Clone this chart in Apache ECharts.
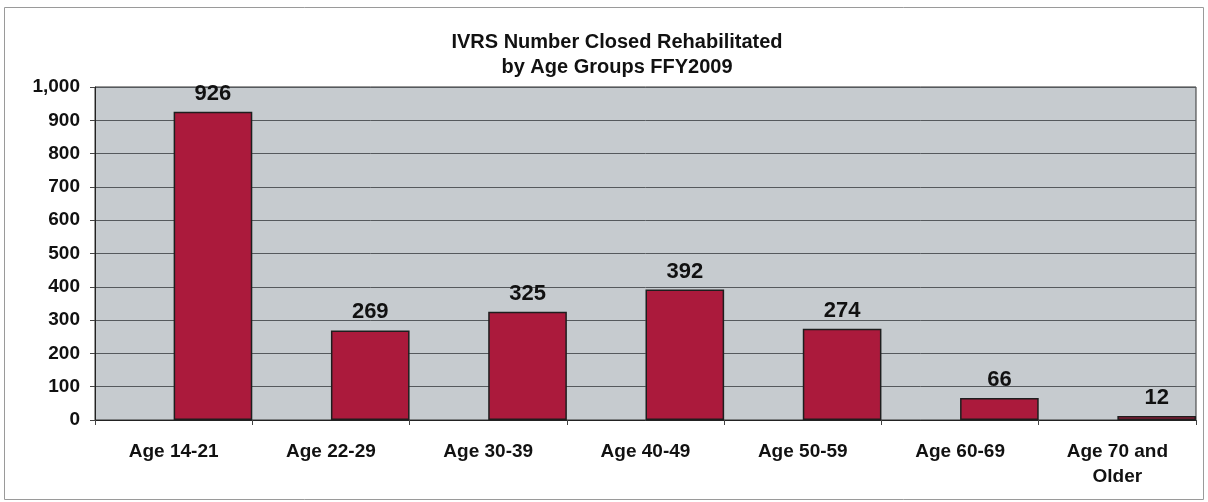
<!DOCTYPE html>
<html>
<head>
<meta charset="utf-8">
<script src="https://cdn.jsdelivr.net/npm/echarts@6/dist/echarts.min.js"></script>
<style>
  html, body { margin: 0; padding: 0; background: #fff; }
  #chart { width: 1208px; height: 502px; }
</style>
</head>
<body>
<div id="chart"></div>
<script>
  // age groups and closed rehabilitated counts, FFY2009
  var categories = ['Age 14-21', 'Age 22-29', 'Age 30-39', 'Age 40-49', 'Age 50-59', 'Age 60-69', 'Age 70 and\nOlder']
  var closedRehab = [926, 269, 325, 392, 274, 66, 12]
  // the original chart leaves the left half of each slot empty
  var emptySlot = ['-', '-', '-', '-', '-', '-', '-']

  var font = 'Liberation Sans, Arial, sans-serif'
  var chart = echarts.init(document.getElementById('chart'))

  chart.setOption({
    animation: false,
    textStyle: { fontFamily: font },
    graphic: [{
      type: 'rect',
      shape: { x: 4.5, y: 7.5, width: 1199, height: 492 },
      style: { fill: 'none', stroke: '#9a9a9a', lineWidth: 1 },
      silent: true
    }],
    title: {
      text: 'IVRS Number Closed Rehabilitated\nby Age Groups FFY2009',
      left: 612,
      top: 25,
      textAlign: 'center',
      textStyle: { fontFamily: font, fontSize: 20, fontWeight: 'bold', color: '#111', lineHeight: 25 }
    },
    grid: {
      left: 95,
      right: 12,
      top: 87,
      bottom: 82,
      show: true,
      backgroundColor: '#c6cbcf',
      borderColor: '#333',
      borderWidth: 1
    },
    xAxis: {
      type: 'category',
      data: categories,
      axisLine: { lineStyle: { color: '#222', width: 1 } },
      axisTick: { show: true, length: 5, lineStyle: { color: '#444' } },
      axisLabel: {
        margin: 19,
        interval: 0,
        color: '#111',
        fontFamily: font,
        fontSize: 19,
        fontWeight: 'bold',
        lineHeight: 25
      }
    },
    yAxis: {
      type: 'value',
      min: 0,
      max: 1000,
      interval: 100,
      axisLine: { show: true, lineStyle: { color: '#222' } },
      axisTick: { show: true, length: 5, lineStyle: { color: '#444' } },
      splitLine: { lineStyle: { color: '#55595d', width: 1 } },
      axisLabel: {
        margin: 15,
        color: '#111',
        fontFamily: font,
        fontSize: 19,
        fontWeight: 'bold',
        formatter: function (v) {
          return v.toLocaleString('en-US')
        }
      }
    },
    series: [
      {
        name: 'blank',
        type: 'bar',
        data: emptySlot,
        barGap: '0%',
        barCategoryGap: '0%'
      },
      {
        name: 'Closed Rehabilitated',
        type: 'bar',
        data: closedRehab,
        barGap: '0%',
        barCategoryGap: '0%',
        itemStyle: { color: '#ab1a3c', borderColor: '#1e1e1e', borderWidth: 1.5 },
        label: {
          show: true,
          position: 'top',
          distance: 7,
          color: '#111',
          fontFamily: font,
          fontSize: 22,
          fontWeight: 'bold'
        }
      }
    ]
  })
</script>
</body>
</html>
